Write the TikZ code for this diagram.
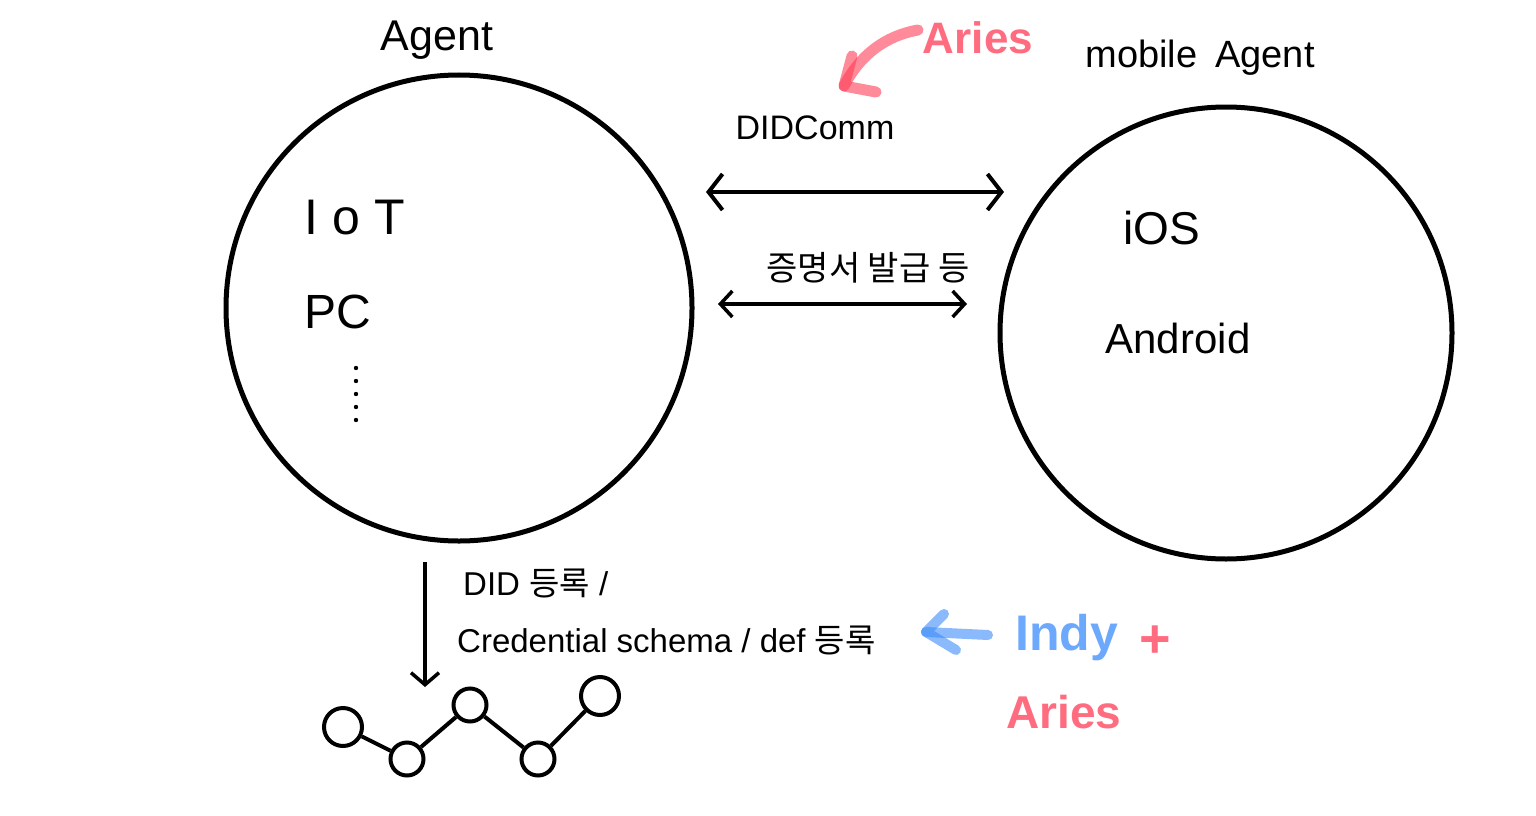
\documentclass[tikz,border=0pt]{standalone}
\usepackage{fontspec}
\setmainfont{Liberation Sans}
\newfontfamily\kr{Noto Sans CJK KR}
\usetikzlibrary{arrows.meta}
\definecolor{inkred}{RGB}{255,60,85}
\definecolor{inkblue}{RGB}{60,140,250}
\newcommand{\fs}[1]{\fontsize{#1}{#1}\selectfont}
\begin{document}
\begin{tikzpicture}[x=1pt,y=-1pt,
  bigcirc/.style={draw, circle, line width=5pt, inner sep=0pt},
  dot/.style={draw, circle, line width=4pt, fill=white, inner sep=0pt},
  lab/.style={inner sep=0pt, text=black},
  dbl/.style={line width=4pt, {Straight Barb[length=14pt,width=36pt]}-{Straight Barb[length=14pt,width=36pt]}},
  dbltwo/.style={line width=3.5pt, {Straight Barb[length=12pt,width=26pt]}-{Straight Barb[length=12pt,width=26pt]}},
  pen/.style={line width=11pt, line cap=round, line join=round, opacity=0.6}
]
\useasboundingbox (0,0) rectangle (1536,816);
\fill[white] (0,0) rectangle (1536,816);

% circles
\node[bigcirc, minimum size=466pt] (agent) at (459,308) {};
\node[bigcirc, minimum size=452pt] (mobile) at (1226,333) {};

% titles
\node[lab, font=\fs{43}] (agentlab) at (437,40) {Agent};
\node[lab, font=\fs{38}] (mobilelab) at (1200,58) {mobile\hspace{18pt}Agent};

% left contents
\node[lab, font=\fs{50}] (iot) at (355,218) {I\hspace{14pt}o\hspace{14pt}T};
\node[lab, font=\fs{48}] (pc) at (338,312) {PC};
\foreach \yy in {368,381,394,407,420}
  \fill (356,\yy) circle[radius=2.2];

% right contents
\node[lab, font=\fs{46}] (ios) at (1162,228) {iOS};
\node[lab, font=\fs{42}] (android) at (1178,338) {Android};

% DIDComm arrow
\node[lab, font=\fs{34}] (didcomm) at (815,128) {DIDComm};
\coordinate (c1a) at (706,192);
\coordinate (c1b) at (1004,192);
\draw[dbl] (c1a) -- (c1b);

% credential arrow
\node[lab, font=\kr\fs{34}] (issue) at (868,268) {증명서 발급 등};
\coordinate (c2a) at (718,304);
\coordinate (c2b) at (967,304);
\draw[dbltwo] (c2a) -- (c2b);

% ledger arrow
\coordinate (d1) at (425,562);
\draw[line width=3.5pt, -{Straight Barb[length=12pt,width=28pt]}] (d1) -- (425,687) coordinate (d2);
\node[lab, font=\fs{33}, anchor=west] (didreg) at (463,583) {DID {\kr 등록} /};
\node[lab, font=\fs{33}, anchor=west] (credreg) at (457,640) {Credential schema / def {\kr 등록}};

% ledger chain
\node[dot, minimum size=38pt] (n1) at (343,727) {};
\node[dot, minimum size=33pt] (n2) at (407,759) {};
\node[dot, minimum size=33pt] (n3) at (470,705) {};
\node[dot, minimum size=33pt] (n4) at (538,759) {};
\node[dot, minimum size=38pt] (n5) at (600,696) {};
\draw[line width=4pt] (n1) -- (n2) -- (n3) -- (n4) -- (n5);

% red Aries top with arrow
\node[lab, font=\bfseries\fs{44}, text=inkred, opacity=0.75] (aries1) at (978,38) {Aries};
\coordinate (ra) at (918,30);
\coordinate (rb) at (844,86);
\draw[pen, inkred] (ra) .. controls (885,36) and (860,55) .. (rb);
\draw[pen, inkred] (852,56) -- (rb) -- (876,92);

% blue Indy + Aries
\node[lab, font=\bfseries\fs{50}, text=inkblue, opacity=0.75, anchor=west] (indy) at (1015,638) {Indy};
\node[lab, font=\bfseries\fs{54}, text=inkred, opacity=0.75] (plus) at (1155,642) {+};
\node[lab, font=\bfseries\fs{46}, text=inkred, opacity=0.75] (aries2) at (1064,712) {Aries};
\coordinate (ba) at (988,635);
\coordinate (bb) at (926,632);
\draw[pen, inkblue, line width=10pt] (ba) -- (bb);
\draw[pen, inkblue, line width=10pt] (944,614) -- (bb) -- (956,650);
\end{tikzpicture}
\end{document}
